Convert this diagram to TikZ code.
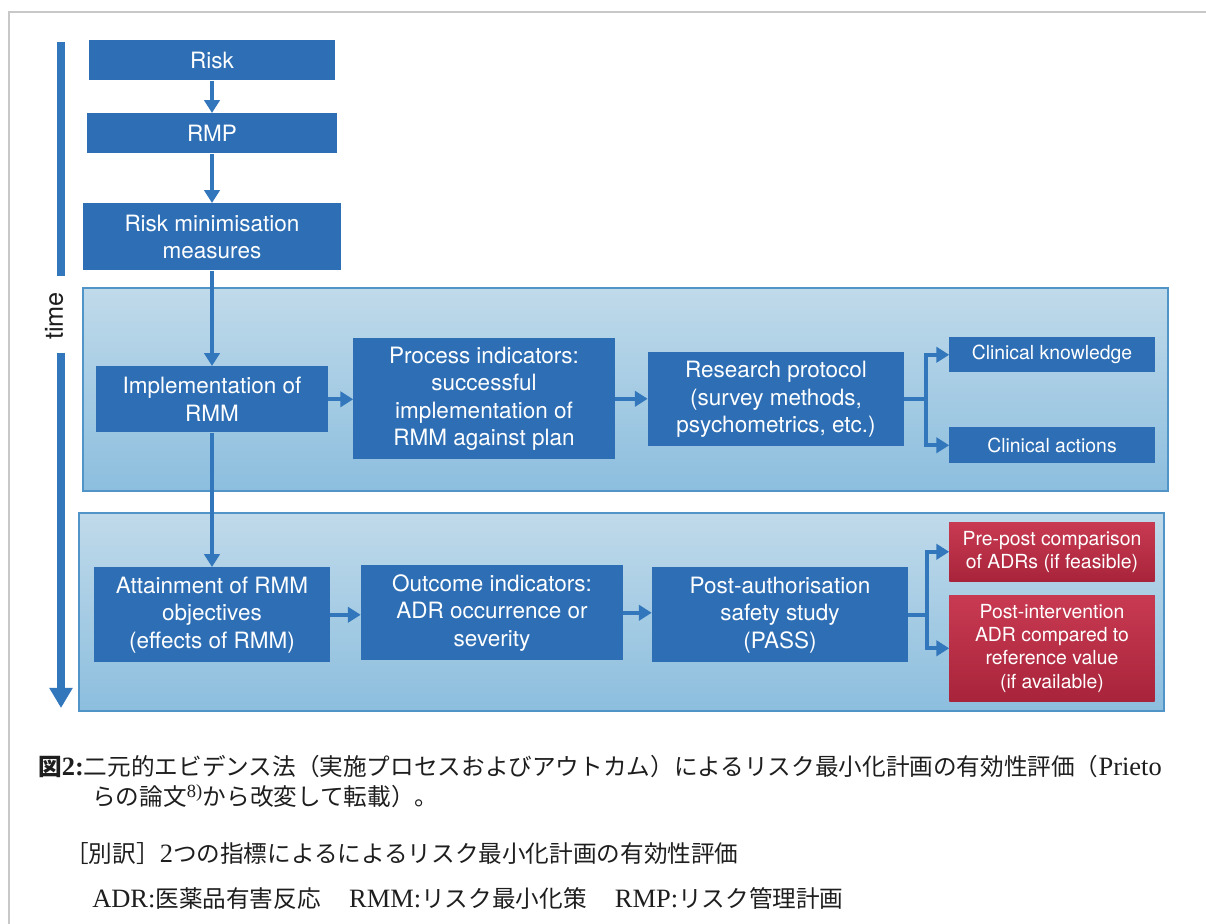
\documentclass[tikz,border=0pt]{standalone}
\usepackage{fontspec}
\setmainfont{Liberation Serif}
\setsansfont{TeX Gyre Heros}
\newfontfamily\jpfont{Noto Sans CJK JP}
\newfontfamily\latfont{Liberation Serif}[Scale=1.12]
\usetikzlibrary{positioning,arrows.meta,calc}

\definecolor{boxblue}{RGB}{45,110,180}
\definecolor{paneltop}{RGB}{192,218,234}
\definecolor{panelbot}{RGB}{140,190,222}
\definecolor{panelline}{RGB}{80,148,200}
\definecolor{arrowblue}{RGB}{50,118,188}
\definecolor{redtop}{RGB}{200,58,82}
\definecolor{redbot}{RGB}{168,36,58}
\definecolor{framegray}{RGB}{200,200,200}
\definecolor{captext}{RGB}{30,30,30}

\newcommand{\lat}[1]{{\latfont #1}}

\begin{document}
\begin{tikzpicture}[x=0.025cm,y=-0.025cm,
    blk/.style={rectangle,fill=boxblue,text=white,anchor=north,align=center,
		inner sep=2pt,font=\sffamily\fontsize{16}{19.5}\selectfont},
    sblk/.style={blk,font=\sffamily\fontsize{13.8}{16.6}\selectfont},
    redblk/.style={sblk,top color=redtop,bottom color=redbot},
    panel/.style={rectangle,draw=panelline,line width=1.4pt,anchor=north west,
		top color=paneltop,bottom color=panelbot},
% Connector style
    conn/.style={->,draw=arrowblue,line width=2.6pt},
    timeline/.style={draw=arrowblue,line width=0.2cm},
% Caption lines
    capt/.style={anchor=base west,inner sep=0pt,text=captext,
		font=\jpfont\fontsize{16.8}{20}\selectfont},
    >={Triangle[width=0.38cm,length=0.32cm]}
    ]
\useasboundingbox (0,0) rectangle (1206,924);
\coordinate (fbot) at (9,924);
\coordinate (fcorner) at (9,12);
\coordinate (fright) at (1206,12);
\draw [framegray,line width=0.8pt] (fbot) -- (fcorner) -- (fright);

\node [panel,minimum width=27.125cm,minimum height=5.075cm] (procpanel) at (82,287) {};
\node [panel,minimum width=27.125cm,minimum height=4.95cm] (outcpanel) at (78,512) {};

\node [blk,minimum width=6.15cm,minimum height=1cm] (risk) at (212,40) {Risk};
\node [blk,minimum width=6.25cm,minimum height=1cm] (rmp) at (212,113) {RMP};
\node [blk,minimum width=6.425cm,minimum height=1.675cm] (measures) at (212,203) {Risk minimisation\\measures};
\node [blk,minimum width=5.8cm,minimum height=1.65cm] (implement) at (212,366) {Implementation of\\RMM};
\node [blk,minimum width=6.525cm,minimum height=3.025cm] (process) at (484,338) {Process indicators:\\successful\\implementation of\\RMM against plan};
\node [blk,minimum width=6.4cm,minimum height=2.35cm] (protocol) at (776,352) {Research protocol\\(survey methods,\\psychometrics, etc.)};
\node [sblk,minimum width=5.125cm,minimum height=0.875cm] (knowledge) at (1052,337) {Clinical knowledge};
\node [sblk,minimum width=5.125cm,minimum height=0.9cm] (actions) at (1052,427) {Clinical actions};

\node [blk,minimum width=5.875cm,minimum height=2.375cm] (attain) at (212,567) {Attainment of RMM\\objectives\\(effects of RMM)};
\node [blk,minimum width=6.55cm,minimum height=2.375cm] (outcome) at (492,565) {Outcome indicators:\\ADR occurrence or\\severity};
\node [blk,minimum width=6.4cm,minimum height=2.375cm] (pass) at (780,567) {Post-authorisation\\safety study\\(PASS)};
\node [redblk,minimum width=5.125cm,minimum height=1.475cm] (prepost) at (1052,522) {Pre-post comparison\\of ADRs (if feasible)};
\node [redblk,minimum width=5.125cm,minimum height=2.65cm] (postint) at (1052,595) {Post-intervention\\ADR compared to\\reference value\\(if available)};

\draw [conn] (risk) -- (rmp);
\draw [conn] (rmp) -- (measures);
\draw [conn] (measures) -- (implement);
\draw [conn] (implement) -- (attain);
\draw [conn] (implement) -- (implement -| process.west);
\draw [conn] (process) -- (process -| protocol.west);
\draw [conn] (attain) -- (attain -| outcome.west);
\draw [conn] (outcome) -- (outcome -| pass.west);
\draw [conn] (protocol.east) -- ++(22,0) coordinate (rsplit) |- (knowledge);
\draw [conn] (rsplit) |- (actions);
\draw [conn] (pass.east) -- ++(19,0) coordinate (psplit) |- (prepost);
\draw [conn] (psplit) |- (postint);

% time axis
\coordinate (tstart) at (61,42);
\coordinate (tgap1) at (61,276);
\coordinate (tgap2) at (61,353);
\coordinate (tend) at (61,708);
\draw [timeline] (tstart) -- (tgap1);
\draw [timeline,-{Triangle[width=0.55cm,length=0.5cm]}] (tgap2) -- (tend);
\node [rotate=90,text=captext,font=\sffamily\fontsize{18}{20}\selectfont] (timelbl) at (54,316) {time};

\node [capt] (cap1) at (38,776) {{\bfseries 図\lat{2:}}二元的エビデンス法（実施プロセスおよびアウトカム）によるリスク最小化計画の有効性評価（\lat{Prieto}};
\node [capt] (cap2) at (92,806) {らの論文\lat{\textsuperscript{8)}}から改変して転載）。};
\node [capt] (cap3) at (65,862) {［別訳］\lat{2}つの指標によるによるリスク最小化計画の有効性評価};
\node [capt] (cap4) at (92,907) {\lat{ADR:}医薬品有害反応\hspace{1.2em}\lat{RMM:}リスク最小化策\hspace{1.2em}\lat{RMP:}リスク管理計画};
\end{tikzpicture}
\end{document}
